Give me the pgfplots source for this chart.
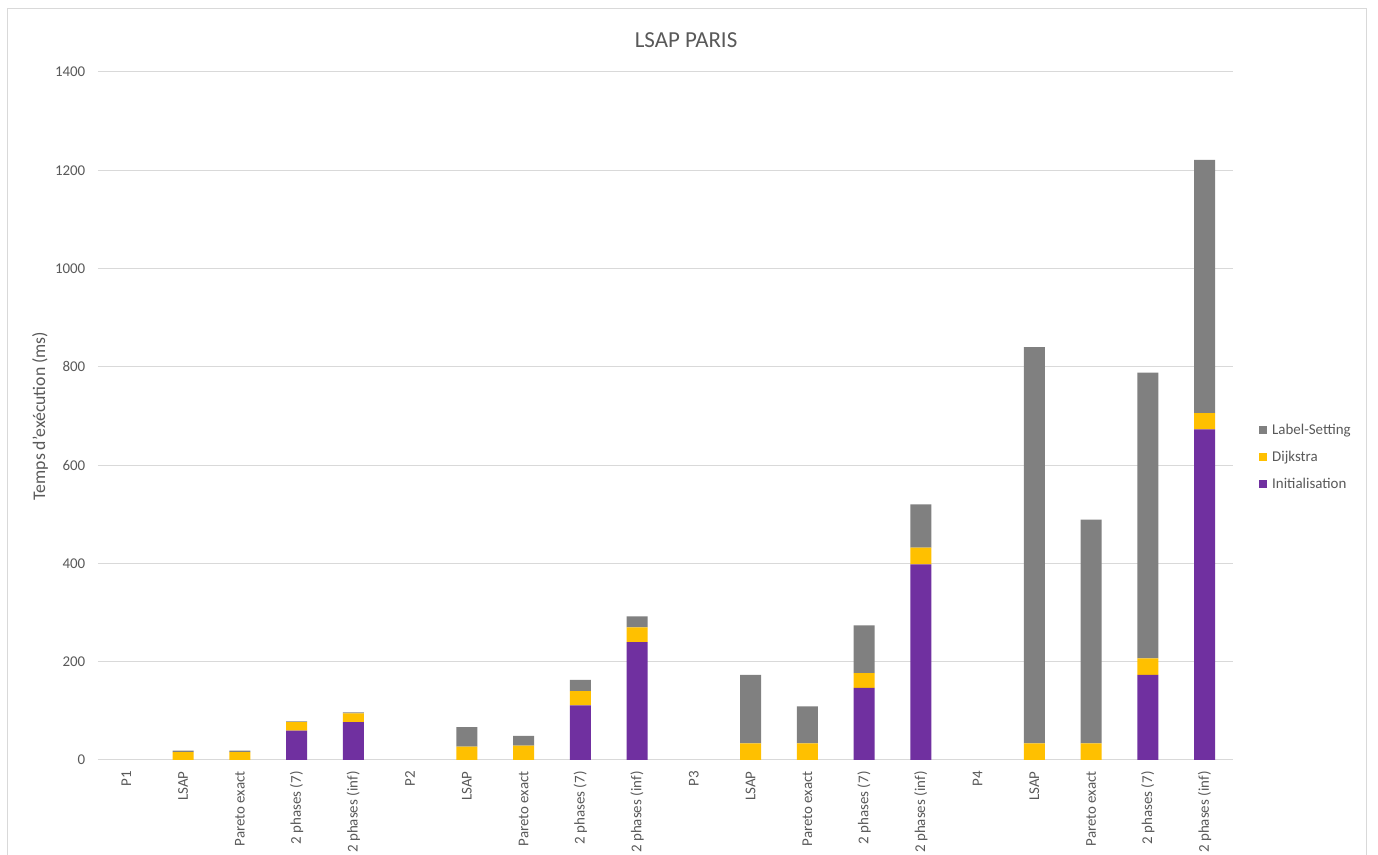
\documentclass[border=0pt]{standalone}
\usepackage{pgfplots}
\pgfplotsset{compat=1.18}
\usepackage{pgfplotstable}
\usepackage{fontspec}
\setmainfont{Carlito}

\definecolor{lsgray}{HTML}{808080}
\definecolor{djyellow}{HTML}{FFC000}
\definecolor{inpurple}{HTML}{7030A0}
\definecolor{gridgray}{HTML}{D9D9D9}
\definecolor{textgray}{HTML}{595959}

% Execution time (ms) per instance and method, split by phase
\pgfplotstableread{
x  init dijk label
0  0    0    0
1  0    16   3
2  0    16   3
3  60   17   1.5
4  77   18   2
5  0    0    0
6  0    27   40
7  0    29   20
8  111  29   23
9  240  30   22
10 0    0    0
11 0    34   139
12 0    34   75
13 147  30   97
14 398  34   88
15 0    0    0
16 0    34   806
17 0    34   455
18 173  34   581
19 673  33   515
}\lsapdata

\begin{document}
\begin{tikzpicture}
\useasboundingbox (0,0) rectangle (1033.5pt,641.25pt);
\clip (0,0) rectangle (1033.5pt,641.25pt);
\fill[white] (0,0) rectangle (1033.5pt,641.25pt);
% chart frame
\draw[gridgray, line width=0.75pt] (5.25pt,-5pt) -- (5.25pt,634.5pt) -- (1024.5pt,634.5pt) -- (1024.5pt,-5pt);
% title
\node[text=textgray, font=\fontsize{17.2}{20}\selectfont] at (514.5pt,611.25pt) {LSAP PARIS};
\begin{axis}[
  at={(73.5pt,71.25pt)}, anchor=south west,
  scale only axis, width=851.25pt, height=516pt,
  ybar stacked, bar width=15.75pt,
  xmin=-0.5, xmax=19.5, ymin=0, ymax=1400,
  ytick={0,200,...,1400},
  xtick={0,...,19},
  xticklabels={P1,LSAP,Pareto exact,2 phases (7),2 phases (inf),
               P2,LSAP,Pareto exact,2 phases (7),2 phases (inf),
               P3,LSAP,Pareto exact,2 phases (7),2 phases (inf),
               P4,LSAP,Pareto exact,2 phases (7),2 phases (inf)},
  axis line style={draw=none},
  tick style={draw=none},
  ymajorgrids,
  major grid style={gridgray, line width=0.75pt},
  /pgf/number format/assume math mode=true,
  /pgf/number format/1000 sep={},
  yticklabel style={font=\fontsize{11.2}{13}\selectfont, text=textgray, xshift=-6pt},
  % shifts act in the rotated frame: xshift moves the label down
  xticklabel style={font=\fontsize{11.2}{13}\selectfont, text=textgray, rotate=90, anchor=east, xshift=-5pt},
  ylabel={Temps d'exécution (ms)},
  every axis y label/.style={at={(rel axis cs:0,0.5)}, xshift=-43.5pt, rotate=90, anchor=center,
    font=\fontsize{13.3}{16}\selectfont, text=textgray},
  legend style={at={(1.019,0.4404)}, anchor=west, draw=none, fill=none,
    font=\fontsize{11.2}{13}\selectfont, text=textgray, row sep=7pt,
    nodes={inner xsep=4pt}},
  legend cell align=left,
  reverse legend,
  legend image code/.code={\fill[#1] (0pt,-3pt) rectangle (6pt,3pt);},
]
\addplot[fill=inpurple, draw=none] table[x=x, y=init] {\lsapdata};
\addlegendentry{Initialisation}
\addplot[fill=djyellow, draw=none] table[x=x, y=dijk] {\lsapdata};
\addlegendentry{Dijkstra}
\addplot[fill=lsgray, draw=none] table[x=x, y=label] {\lsapdata};
\addlegendentry{Label-Setting}
\end{axis}
\end{tikzpicture}
\end{document}
